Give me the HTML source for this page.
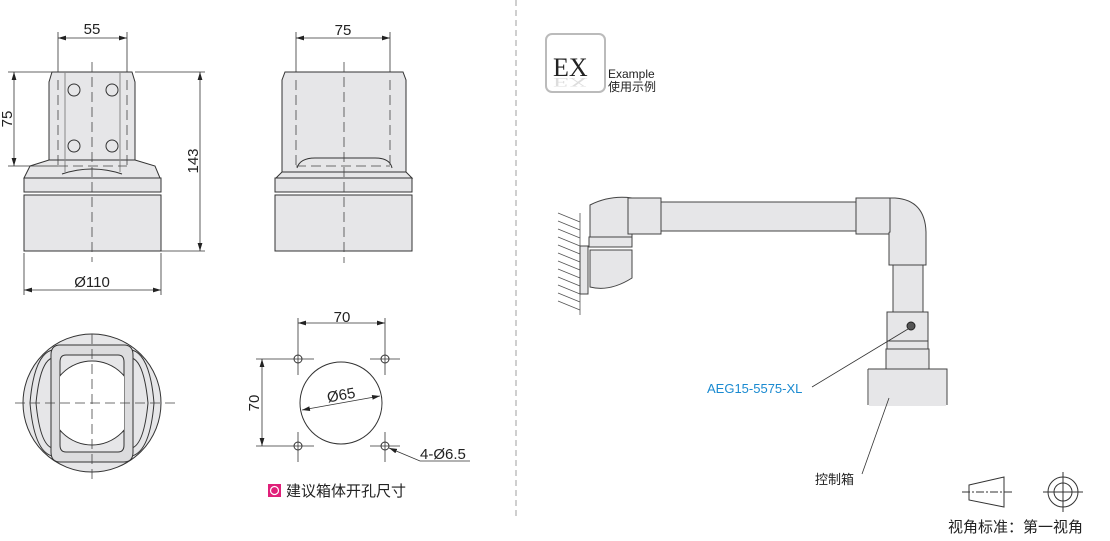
<!DOCTYPE html>
<html><head><meta charset="utf-8"><style>
body{margin:0;background:#fff}
svg{display:block}
text{font-family:"Liberation Sans","Noto Sans CJK SC",sans-serif;fill:#222}
</style></head><body>
<svg width="1110" height="541" viewBox="0 0 1110 541" xmlns="http://www.w3.org/2000/svg">
<defs>
<marker id="a" viewBox="0 0 10 6" refX="10" refY="3" markerWidth="10" markerHeight="6" orient="auto-start-reverse"><path d="M0,0L10,3L0,6z" fill="#222"/></marker>
<clipPath id="ic"><path d="M66,355 L118,355 Q124,355 124,362 L124,445 Q124,452 118,452 L66,452 Q60,452 60,445 L60,362 Q60,355 66,355Z"/></clipPath>
</defs>
<g stroke="#333" stroke-width="1" fill="#e6e6e8">
<path d="M52,72 L132,72 L135,82 L135,160 L49,160 L49,82 Z"/>
<path d="M30,166 L49,160 L135,160 L155,166 L160,178 L24,178 Z"/>
<rect x="24" y="178" width="137" height="14"/>
<rect x="24" y="195" width="137" height="56"/>
<path d="M62,174 Q92,164 122,174" fill="none"/>
<g fill="none"><circle cx="74" cy="90" r="6"/><circle cx="112" cy="90" r="6"/><circle cx="74" cy="146" r="6"/><circle cx="112" cy="146" r="6"/></g>
<line x1="65" y1="72" x2="65" y2="172" stroke="#888"/><line x1="120" y1="72" x2="120" y2="172" stroke="#888"/>
<path d="M285,72 L403,72 L406,80 L406,172 L282,172 L282,80 Z"/>
<path d="M276,178 L282,172 L406,172 L412,178 Z"/>
<rect x="275" y="178" width="137" height="14"/>
<rect x="275" y="195" width="137" height="56"/>
<path d="M297,168 Q300,158 315,158 L375,158 Q390,158 392,168" fill="none"/>
<!-- top view circle -->
<circle cx="92" cy="403" r="69"/>
<path d="M30,403 Q34,355 52,350 M36,403 Q40,362 52,358 M154,403 Q150,355 132,350 M148,403 Q144,362 132,358 M30,403 Q34,451 52,456 M36,403 Q40,444 52,448 M154,403 Q150,451 132,456 M148,403 Q144,444 132,448" fill="none"/>
<path d="M60,345 L124,345 Q133,345 133,355 L133,452 Q133,462 124,462 L60,462 Q51,462 51,452 L51,355 Q51,345 60,345Z" fill="#dcdcde"/>
<path d="M66,355 L118,355 Q124,355 124,362 L124,445 Q124,452 118,452 L66,452 Q60,452 60,445 L60,362 Q60,355 66,355Z" fill="#e6e6e8"/>
<circle cx="92" cy="403" r="42" fill="#fff" clip-path="url(#ic)"/>
<circle cx="341" cy="403" r="41" fill="#fff"/>
<g fill="#fff"><circle cx="298" cy="359" r="4"/><circle cx="385" cy="359" r="4"/><circle cx="298" cy="446" r="4"/><circle cx="385" cy="446" r="4"/></g>
</g>
<g stroke="#444" stroke-width="0.8" stroke-dasharray="10,5" fill="none">
<line x1="92" y1="62" x2="92" y2="262"/>
<line x1="344" y1="62" x2="344" y2="263"/>
<line x1="58" y1="80" x2="58" y2="166"/><line x1="127" y1="80" x2="127" y2="166"/><line x1="58" y1="166" x2="127" y2="166"/>
<line x1="296" y1="80" x2="296" y2="168"/><line x1="390" y1="80" x2="390" y2="168"/><line x1="296" y1="166" x2="390" y2="166"/>
<line x1="15" y1="403" x2="176" y2="403"/><line x1="92" y1="334" x2="92" y2="480"/>
<line x1="516" y1="0" x2="516" y2="520" stroke-dasharray="6,4" stroke="#888"/>
</g>
<g stroke="#333" stroke-width="0.8" fill="none">
<line x1="58" y1="32" x2="58" y2="72"/><line x1="127" y1="32" x2="127" y2="72"/>
<line x1="58" y1="38" x2="127" y2="38" marker-start="url(#a)" marker-end="url(#a)"/>
<line x1="8" y1="72" x2="52" y2="72"/><line x1="8" y1="166" x2="58" y2="166"/>
<line x1="14" y1="72" x2="14" y2="166" marker-start="url(#a)" marker-end="url(#a)"/>
<line x1="135" y1="72" x2="205" y2="72"/><line x1="161" y1="251" x2="205" y2="251"/>
<line x1="200" y1="72" x2="200" y2="251" marker-start="url(#a)" marker-end="url(#a)"/>
<line x1="24" y1="253" x2="24" y2="295"/><line x1="161" y1="253" x2="161" y2="295"/>
<line x1="24" y1="290" x2="161" y2="290" marker-start="url(#a)" marker-end="url(#a)"/>
<line x1="296" y1="32" x2="296" y2="72"/><line x1="390" y1="32" x2="390" y2="72"/>
<line x1="296" y1="38" x2="390" y2="38" marker-start="url(#a)" marker-end="url(#a)"/>
<line x1="298" y1="318" x2="298" y2="375"/><line x1="385" y1="318" x2="385" y2="375"/>
<line x1="298" y1="323" x2="385" y2="323" marker-start="url(#a)" marker-end="url(#a)"/>
<line x1="256" y1="359" x2="314" y2="359"/><line x1="256" y1="446" x2="314" y2="446"/>
<line x1="370" y1="359" x2="400" y2="359"/><line x1="370" y1="446" x2="400" y2="446"/>
<line x1="298" y1="432" x2="298" y2="462"/><line x1="385" y1="432" x2="385" y2="462"/>
<line x1="262" y1="359" x2="262" y2="446" marker-start="url(#a)" marker-end="url(#a)"/>
<line x1="302" y1="410" x2="380" y2="396" marker-start="url(#a)" marker-end="url(#a)"/>
<path d="M470,461 L420,461 L389,448" marker-end="url(#a)"/>
</g>
<g font-size="15">
<text x="92" y="34" text-anchor="middle">55</text>
<text x="343" y="35" text-anchor="middle">75</text>
<text x="92" y="287" text-anchor="middle">Ø110</text>
<text transform="translate(12,119) rotate(-90)" text-anchor="middle">75</text>
<text transform="translate(198,161) rotate(-90)" text-anchor="middle">143</text>
<text x="342" y="322" text-anchor="middle">70</text>
<text transform="translate(259,403) rotate(-90)" text-anchor="middle">70</text>
<text transform="translate(342,400) rotate(-10)" text-anchor="middle">Ø65</text>
<text x="420" y="459">4-Ø6.5</text>
</g>
<rect x="268" y="484" width="13" height="13" fill="#e0207a"/>
<circle cx="274.5" cy="490.5" r="4" fill="none" stroke="#fff" stroke-width="1.2"/>
<text x="286" y="496" font-size="15">建议箱体开孔尺寸</text>
<rect x="546" y="34" width="59" height="58" rx="6" fill="#fff" stroke="#bbb" stroke-width="2"/>
<text x="553" y="76" font-size="26" style="font-family:'Liberation Serif',serif" fill="#444">EX</text>
<text transform="translate(553,78) scale(1,-0.5)" font-size="26" style="font-family:'Liberation Serif',serif;fill:#ddd">EX</text>
<text x="608" y="78" font-size="12">Example</text>
<text x="608" y="91" font-size="12">使用示例</text>
<g stroke="#555" stroke-width="0.8">
<line x1="580" y1="213" x2="580" y2="315"/>
<path d="M558,213 L580,222 M558,221 L580,230 M558,229 L580,238 M558,237 L580,246 M558,245 L580,254 M558,253 L580,262 M558,261 L580,270 M558,269 L580,278 M558,277 L580,286 M558,285 L580,294 M558,293 L580,302 M558,301 L580,310"/>
</g>
<g stroke="#444" stroke-width="1" fill="#e6e6e8">
<rect x="580" y="246" width="8" height="48"/>
<path d="M590,250 L632,250 L632,278 Q610,292 590,287 Z"/>
<path d="M590,205 Q610,195 632,198 L632,238 L590,238 Z"/>
<rect x="589" y="237" width="43" height="10"/>
<rect x="628" y="198" width="33" height="36"/>
<rect x="661" y="202" width="195" height="29"/>
<rect x="856" y="198" width="35" height="36"/>
<path d="M890,198 L895,198 Q925,200 926,232 L926,265 L889,265 L889,233 Q889,232 890,232Z"/>
<rect x="893" y="265" width="30" height="47"/>
<rect x="887" y="312" width="41" height="29"/>
<rect x="887" y="341" width="41" height="8"/>
<rect x="886" y="349" width="43" height="20"/>
<path d="M868,369 L947,369 L947,405 M868,405 L868,369" fill="#e6e6e8"/>
</g>
<rect x="869" y="370" width="77" height="36" fill="#e6e6e8"/>
<circle cx="911" cy="326" r="4" fill="#555" stroke="#222"/>
<g stroke="#333" stroke-width="0.8" fill="none">
<path d="M908,329 L812,387"/>
<path d="M889,398 L862,474"/>
</g>
<text x="707" y="393" font-size="13" style="fill:#1a8ad0">AEG15-5575-XL</text>
<text x="815" y="484" font-size="13">控制箱</text>
<g stroke="#333" stroke-width="1" fill="none">
<path d="M969,485 L1004,477 L1004,507 L969,500 Z"/>
<line x1="962" y1="492" x2="1012" y2="492" stroke-dasharray="8,2,2,2"/>
<circle cx="1063" cy="492" r="15"/><circle cx="1063" cy="492" r="9"/>
<line x1="1043" y1="492" x2="1083" y2="492"/><line x1="1063" y1="472" x2="1063" y2="512"/>
</g>
<text x="948" y="532" font-size="15">视角标准：第一视角</text>
</svg>
</body></html>
